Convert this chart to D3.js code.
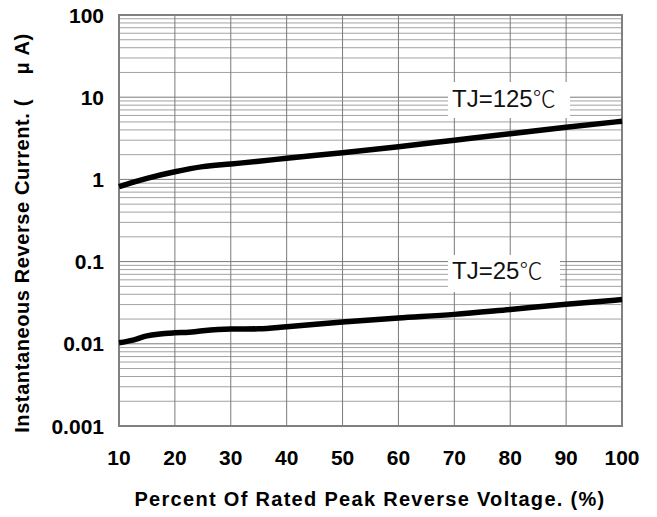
<!DOCTYPE html>
<html><head><meta charset="utf-8">
<script src="https://cdn.jsdelivr.net/npm/d3@7"></script>
<style>body{margin:0;background:#fff}</style>
</head><body>
<svg id="c" width="657" height="517"></svg>
<script>
const xTicks = [10,20,30,40,50,60,70,80,90,100];
const yTicks = [0.001,0.01,0.1,1,10,100];
const yTickLabels = ["0.001","0.01","0.1","1","10","100"];
const xPct = [10,12,15,20,25,30,35,40,50,60,70,80,90,100];
const i125 = [0.815,0.9,1.03,1.24,1.43,1.54,1.66,1.81,2.11,2.5,3.0,3.6,4.3,5.1];
const xPct25 = [10,12.5,15,20,22.5,25,30,35,40,50,60,70,80,90,100];
const i25 = [0.0103,0.0111,0.0125,0.0136,0.0138,0.0144,0.0151,0.0152,0.0161,0.0184,0.0206,0.0228,0.0262,0.0302,0.0345];
const labels = ["TJ=125","TJ=25"];

const svg = d3.select("#c");
const L=119,R=622,T=15,B=426;
const x = d3.scaleLinear().domain([10,100]).range([L,R]);
const y = d3.scaleLog().domain([0.001,100]).range([B,T]);

const minor=[];
for(let d=-3;d<2;d++) for(let m=2;m<=9;m++) minor.push(m*Math.pow(10,d));
svg.append("g").selectAll("line").data(minor).join("line")
  .attr("x1",L).attr("x2",R).attr("y1",d=>y(d)).attr("y2",d=>y(d))
  .attr("stroke","#8a8a8a").attr("stroke-width",0.8);
svg.append("g").selectAll("line").data(yTicks).join("line")
  .attr("x1",L).attr("x2",R).attr("y1",d=>y(d)).attr("y2",d=>y(d))
  .attr("stroke","#7a7a7a").attr("stroke-width",1);
svg.append("g").selectAll("line").data(xTicks).join("line")
  .attr("x1",d=>x(d)).attr("x2",d=>x(d)).attr("y1",T).attr("y2",B)
  .attr("stroke","#7a7a7a").attr("stroke-width",1);
svg.append("rect").attr("x",L).attr("y",T).attr("width",R-L).attr("height",B-T)
  .attr("fill","none").attr("stroke","#808080").attr("stroke-width",2);

const font="Liberation Sans, Arial, sans-serif";
function lbl(txt,bx,by,bw,bh,tx,ty){
  svg.append("rect").attr("x",bx).attr("y",by).attr("width",bw).attr("height",bh).attr("fill","#fff");
  const t=svg.append("text").attr("x",tx).attr("y",ty).attr("font-family",font)
    .attr("font-size",24).attr("fill","#111");
  t.append("tspan").text(txt);
  t.append("tspan").attr("font-family","Noto Sans CJK SC").attr("font-size",23).attr("font-weight",300).text("℃");
}
lbl(labels[0],448,82,122,36,452,107);
lbl(labels[1],448,255,112,37,452,279);

const line = d3.line().x(d=>x(d[0])).y(d=>y(d[1])).curve(d3.curveMonotoneX);
svg.append("path").datum(xPct.map((v,i)=>[v,i125[i]])).attr("d",line)
  .attr("fill","none").attr("stroke","#000").attr("stroke-width",5.5);
svg.append("path").datum(xPct25.map((v,i)=>[v,i25[i]])).attr("d",line)
  .attr("fill","none").attr("stroke","#000").attr("stroke-width",5.5);

svg.append("g").selectAll("text").data(xTicks).join("text")
  .attr("x",d=>x(d)).attr("y",465).attr("text-anchor","middle")
  .attr("font-family",font).attr("font-weight","bold").attr("font-size",21).attr("fill","#000")
  .text(d=>d);
svg.append("g").selectAll("text").data(yTicks).join("text")
  .attr("x",104).attr("y",d=>y(d)+7.5).attr("text-anchor","end")
  .attr("font-family",font).attr("font-weight","bold").attr("font-size",21).attr("fill","#000")
  .text((d,i)=>yTickLabels[i]);

svg.append("text").attr("x",370).attr("y",506).attr("text-anchor","middle")
  .attr("font-family",font).attr("font-weight","bold").attr("font-size",20).attr("letter-spacing",1.3).attr("fill","#000")
  .text("Percent Of Rated Peak Reverse Voltage. (%)");
svg.append("text").attr("transform","translate(29,233) rotate(-90)").attr("text-anchor","middle")
  .attr("font-family",font).attr("font-weight","bold").attr("font-size",20).attr("letter-spacing",0.6).attr("fill","#000")
  .style("white-space","pre")
  .text("Instantaneous Reverse Current. (    μ A)");
</script>
</body></html>
